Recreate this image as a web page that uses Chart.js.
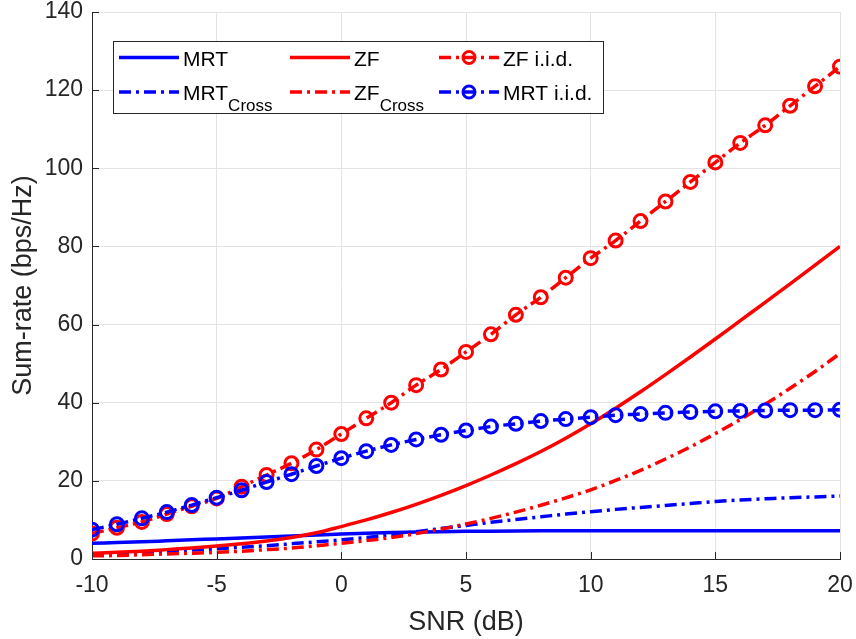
<!DOCTYPE html>
<html>
<head>
<meta charset="utf-8">
<script src="https://cdn.jsdelivr.net/npm/chart.js@4.4.0/dist/chart.umd.min.js"></script>
<style>
html,body{margin:0;padding:0;background:#fff;}
#wrap{width:856px;height:639px;position:relative;}
</style>
</head>
<body>
<div id="wrap"><canvas id="c" width="856" height="639"></canvas></div>
<script>
// ---- data ----
const snr = [-10,-9,-8,-7,-6,-5,-4,-3,-2,-1,0,1,2,3,4,5,6,7,8,9,10,11,12,13,14,15,16,17,18,19,20];
const mrt = [4.0,4.2,4.4,4.65,4.9,5.15,5.4,5.65,5.9,6.15,6.4,6.6,6.8,6.9,7.0,7.08,7.13,7.17,7.2,7.22,7.23,7.24,7.24,7.25,7.25,7.25,7.25,7.25,7.25,7.25,7.25];
const zf = [1.5,1.7,2.0,2.4,2.8,3.3,3.9,4.6,5.5,6.7,8.3,10.0,11.9,14.0,16.3,18.8,21.5,24.4,27.5,30.9,34.6,38.6,42.8,47.2,51.7,56.3,61.0,65.7,70.4,75.2,80.0];
const mrtCross = [1.3,1.5,1.7,2.0,2.3,2.6,3.0,3.4,3.9,4.4,4.9,5.5,6.2,7.0,7.8,8.6,9.4,10.1,10.8,11.5,12.1,12.7,13.2,13.7,14.2,14.7,15.1,15.4,15.7,15.9,16.1];
const zfCross = [0.8,0.9,1.1,1.3,1.5,1.7,2.0,2.4,2.8,3.4,4.0,4.7,5.5,6.5,7.65,8.95,10.4,12.0,13.75,15.65,17.7,20.1,22.7,25.6,28.7,32.1,35.7,39.6,43.7,48.0,52.6];
const zfIid = [6.5,8.0,9.5,11.5,13.5,15.5,18.5,21.5,24.5,28.0,32.0,36.0,40.0,44.5,48.5,53.0,57.5,62.5,67.0,72.0,77.0,81.5,86.5,91.5,96.5,101.5,106.5,111.0,116.0,121.0,126.0];
const mrtIid = [7.5,8.9,10.4,12.0,13.8,15.7,17.6,19.7,21.7,23.8,25.8,27.6,29.2,30.6,31.8,32.9,33.9,34.6,35.3,35.8,36.3,36.8,37.1,37.4,37.6,37.8,37.9,38.0,38.1,38.1,38.2];
const xTicks = [-10,-5,0,5,10,15,20];
const yTicks = [0,20,40,60,80,100,120,140];
const xTitle = 'SNR (dB)';
const yTitle = 'Sum-rate (bps/Hz)';

const BLUE = '#0000ff', RED = '#ff0000';
const DASHDOT = [12,5,3,5];
const FONT = "'Liberation Sans', Arial, Helvetica, sans-serif";
const INK = '#262626';
const LW = 3.5;

function pts(ys){ return snr.map((x,i)=>({x:x,y:ys[i]})); }

const datasets = [
  {label:'MRT', sub:'', data:pts(mrt), borderColor:BLUE, borderWidth:LW, pointRadius:0, borderDash:[], order:6},
  {label:'MRT', sub:'Cross', data:pts(mrtCross), borderColor:BLUE, borderWidth:LW, pointRadius:0, borderDash:DASHDOT, order:5},
  {label:'ZF', sub:'', data:pts(zf), borderColor:RED, borderWidth:LW, pointRadius:0, borderDash:[], order:4},
  {label:'ZF', sub:'Cross', data:pts(zfCross), borderColor:RED, borderWidth:LW, pointRadius:0, borderDash:DASHDOT, order:3},
  {label:'ZF i.i.d.', sub:'', data:pts(zfIid), borderColor:RED, borderWidth:LW, borderDash:DASHDOT, pointRadius:6.5, pointStyle:'circle', pointBorderColor:RED, pointBackgroundColor:'rgba(0,0,0,0)', pointBorderWidth:3, order:2},
  {label:'MRT i.i.d.', sub:'', data:pts(mrtIid), borderColor:BLUE, borderWidth:LW, borderDash:DASHDOT, pointRadius:6.5, pointStyle:'circle', pointBorderColor:BLUE, pointBackgroundColor:'rgba(0,0,0,0)', pointBorderWidth:3, order:1}
];
datasets.forEach(d=>{ d.fill=false; d.tension=0.3; d.cubicInterpolationMode='monotone'; });

const decor = {
  id:'decor',
  afterDraw(chart){
    const ctx = chart.ctx, a = chart.chartArea;
    const xs = chart.scales.x, ys = chart.scales.y;
    ctx.save();
    // inward ticks
    ctx.strokeStyle = INK; ctx.lineWidth = 1;
    ctx.beginPath();
    xTicks.forEach(v=>{ const px = Math.round(xs.getPixelForValue(v))+0.5; ctx.moveTo(px,a.bottom); ctx.lineTo(px,a.bottom-7); });
    yTicks.forEach(v=>{ const py = Math.round(ys.getPixelForValue(v))+0.5; ctx.moveTo(a.left,py); ctx.lineTo(a.left+7,py); });
    ctx.stroke();
    // legend
    const bx=113, by=41, bw=490, bh=72;
    ctx.fillStyle='#fff'; ctx.fillRect(bx,by,bw,bh);
    ctx.strokeStyle=INK; ctx.lineWidth=1; ctx.strokeRect(bx+0.5,by+0.5,bw,bh);
    const cols=[119,290,439], rows=[57.5,92];
    const order=[0,1,2,3,4,5];
    order.forEach((di,k)=>{
      const d = datasets[di];
      const col = Math.floor(k/2), row = k%2;
      const x0 = cols[col], y0 = rows[row];
      ctx.strokeStyle = d.borderColor; ctx.lineWidth = LW;
      ctx.setLineDash(d.borderDash||[]);
      ctx.beginPath(); ctx.moveTo(x0,y0); ctx.lineTo(x0+60,y0); ctx.stroke();
      ctx.setLineDash([]);
      if(d.pointRadius>0){
        ctx.lineWidth = 3; ctx.beginPath(); ctx.arc(x0+30,y0,6,0,Math.PI*2); ctx.stroke();
      }
      ctx.fillStyle='#000'; ctx.font = '21px '+FONT; ctx.textBaseline='alphabetic'; ctx.textAlign='left';
      ctx.fillText(d.label, x0+64, y0+8);
      if(d.sub){
        const w = ctx.measureText(d.label).width;
        ctx.font = '17px '+FONT;
        ctx.fillText(d.sub, x0+64+w, y0+19);
      }
    });
    ctx.restore();
  }
};

new Chart(document.getElementById('c'), {
  type:'line',
  data:{datasets:datasets},
  plugins:[decor],
  options:{
    responsive:false, animation:false,
    layout:{padding:{top:12,right:16,left:0,bottom:0}},
    plugins:{legend:{display:false}, tooltip:{enabled:false}},
    scales:{
      x:{type:'linear', min:-10, max:20,
        afterBuildTicks(s){ s.ticks = xTicks.map(v=>({value:v})); },
        afterFit(s){ s.height = 80; s.paddingLeft=0; s.paddingRight=0; },
        grid:{color:'#e3e3e3', lineWidth:1, drawTicks:false},
        border:{display:true, color:INK, width:1},
        ticks:{color:INK, font:{family:FONT, size:23}, padding:13, maxRotation:0},
        title:{display:true, text:xTitle, color:INK, font:{family:FONT, size:27}, padding:{top:0,bottom:0}}
      },
      y:{type:'linear', min:0, max:140,
        afterBuildTicks(s){ s.ticks = yTicks.map(v=>({value:v})); },
        afterFit(s){ s.width = 92; s.paddingTop=0; s.paddingBottom=0; },
        grid:{color:'#e3e3e3', lineWidth:1, drawTicks:false},
        border:{display:true, color:INK, width:1},
        ticks:{color:INK, font:{family:FONT, size:23}, padding:9},
        title:{display:true, text:yTitle, color:INK, font:{family:FONT, size:27}, padding:{top:7,bottom:0}}
      }
    }
  }
});
</script>
</body>
</html>
